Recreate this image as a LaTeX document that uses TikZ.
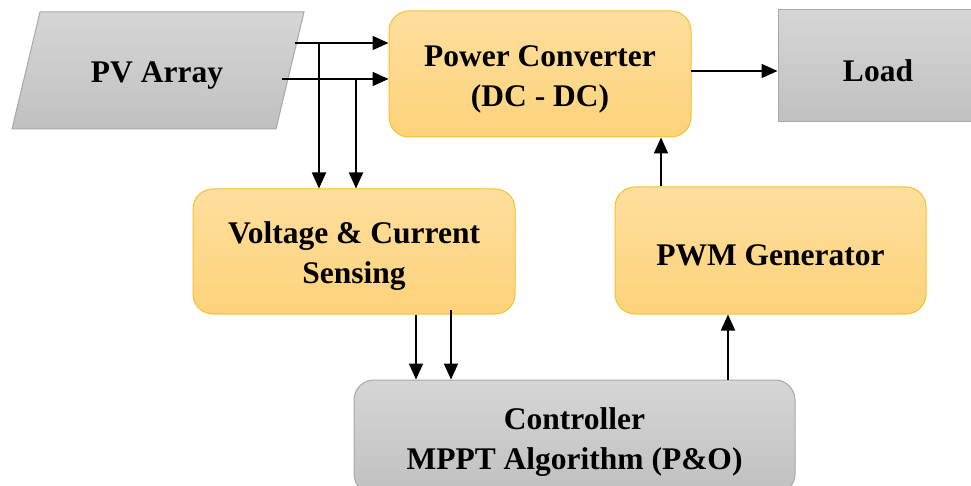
\documentclass[tikz,border=0pt]{standalone}
\usepackage{fontspec}
\setmainfont{Liberation Serif}
\usetikzlibrary{arrows.meta,calc}
\definecolor{orTop}{RGB}{255,222,158}
\definecolor{orBot}{RGB}{253,211,122}
\definecolor{orLine}{RGB}{246,192,45}
\definecolor{grTop}{RGB}{214,214,214}
\definecolor{grBot}{RGB}{192,192,192}
\definecolor{grLine}{RGB}{168,168,168}
\tikzset{
  lbl/.style={font=\fontsize{31.5}{40}\selectfont\bfseries, align=center, text=black},
  orangebox/.style={draw=orLine, line width=1pt, top color=orTop, bottom color=orBot, rounded corners=20pt, inner sep=0pt},
  graybox/.style={draw=grLine, line width=1pt, top color=grTop, bottom color=grBot, inner sep=0pt},
  txt/.style={lbl, yshift=-5pt},
  arr/.style={-{Triangle[length=16pt,width=14pt]}, line width=1.8pt, black},
}
\begin{document}
\begin{tikzpicture}[x=1pt,y=-1pt]
\useasboundingbox (0,0) rectangle (971,486);
\clip (0,0) rectangle (971,486);
% PV array parallelogram
\path[draw=grLine, line width=1pt, top color=grTop, bottom color=grBot]
  (40,12) -- (304,12) -- (276,129) -- (12,129) -- cycle;
\node[txt] (pv) at (157,71) {PV Array};
% boxes
\node[orangebox, minimum width=302pt, minimum height=126pt] (pc) at (540,74) {};
\node[txt] (pct) at (pc) {Power Converter\\(DC - DC)};
\node[graybox, minimum width=200pt, minimum height=112pt] (load) at (878,66) {};
\node[txt] (loadt) at (load) {Load};
\node[orangebox, minimum width=322pt, minimum height=125pt] (vs) at (354,251.5) {};
\node[txt] (vst) at (vs) {Voltage \& Current\\Sensing};
\node[orangebox, minimum width=311pt, minimum height=127pt] (pwm) at (770.5,250.5) {};
\node[txt] (pwmt) at (pwm) {PWM Generator};
\node[graybox, rounded corners=20pt, minimum width=441pt, minimum height=114pt] (ctrl) at (574.5,437) {};
\node[txt] (ctrlt) at (ctrl) {Controller\\MPPT Algorithm (P\&O)};
% helper coordinates
\coordinate (p1) at (295,43);
\coordinate (p2) at (282,79);
\coordinate (b1) at (319,43);
\coordinate (b2) at (356,79);
\coordinate (q1) at (691,71);
\coordinate (c3) at (661,160);
\coordinate (d1) at (416,345);
\coordinate (d2) at (451,345);
\coordinate (e1) at (728,345);
% connectors
\draw[arr] (p1) -- (p1 -| pc.west);
\draw[arr] (p2) -- (p2 -| pc.west);
\draw[arr] (b1) -- (b1 |- vs.north);
\draw[arr] (b2) -- (b2 |- vs.north);
\draw[arr] (q1) -- (q1 -| load.west);
\draw[arr] (c3 |- pwm.north) -- (c3 |- pc.south);
\draw[arr] (d1 |- vs.south) -- (d1 |- ctrl.north);
\draw[arr] ([yshift=5pt]d2 |- vs.south) -- (d2 |- ctrl.north);
\draw[arr] (e1 |- ctrl.north) -- (e1 |- pwm.south);
\end{tikzpicture}
\end{document}
